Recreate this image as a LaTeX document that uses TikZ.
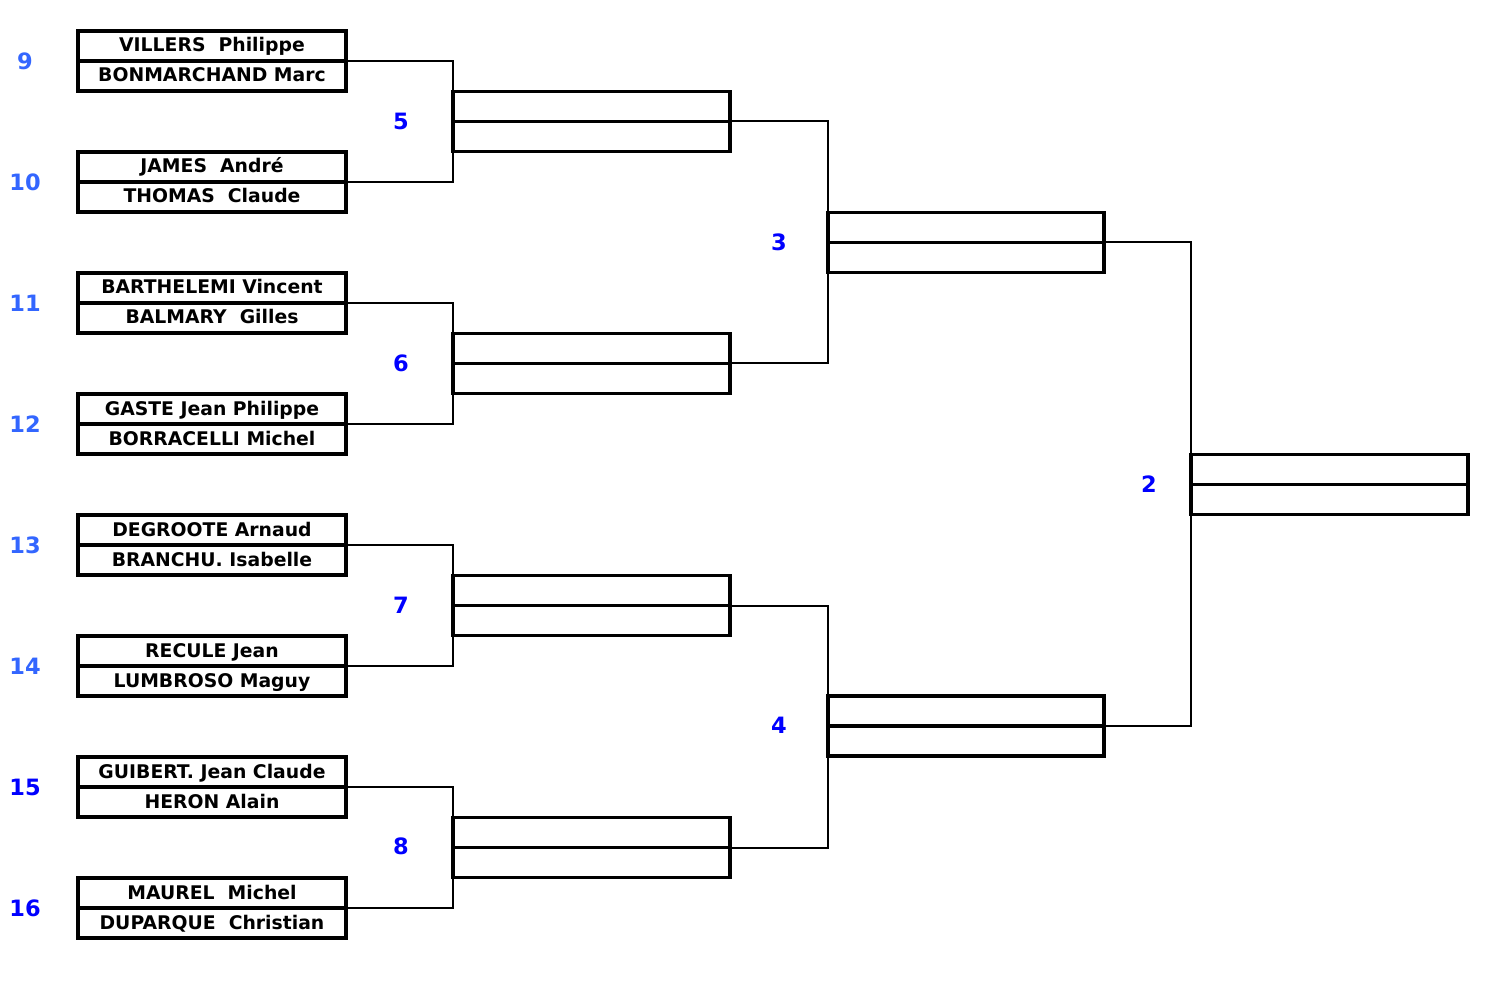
\documentclass[tikz,border=0pt]{standalone}
\usepackage{fontspec}
\setmainfont{DejaVu Sans}
\usepackage{tikz}
\usetikzlibrary{positioning}
\definecolor{seedblue}{RGB}{51, 102, 255}
\definecolor{roundblue}{RGB}{0, 0, 255}

\begin{document}
\begin{tikzpicture}[x=1pt, y=-1pt,
    player/.style={rectangle, draw, line width=3.5pt, outer sep=0pt, minimum width=268pt, minimum height=30pt, inner sep=0pt, text height=14pt, text depth=2pt, font=\fontsize{18.8}{20}\selectfont\bfseries},
    slot/.style={rectangle, draw, line width=3.5pt, outer sep=0pt, minimum width=277pt, minimum height=30pt, inner sep=0pt},
    seed/.style={font=\fontsize{22.5}{24}\selectfont\bfseries, text=seedblue},
    rnd/.style={font=\fontsize{22.5}{24}\selectfont\bfseries, text=roundblue},
    link/.style={line width=2pt}]
    \useasboundingbox (0,0) rectangle (1492,984);
    % first round
    \node[player] (p9a) at (212,46) {VILLERS~ Philippe};
    \node[player] (p9b) at (212,76) {BONMARCHAND Marc};
    \node[player] (p10a) at (212,167) {JAMES~ André};
    \node[player] (p10b) at (212,197) {THOMAS~ Claude};
    \node[player] (p11a) at (212,288) {BARTHELEMI Vincent};
    \node[player] (p11b) at (212,318) {BALMARY~ Gilles};
    \node[player] (p12a) at (212,409) {GASTE Jean Philippe};
    \node[player] (p12b) at (212,439) {BORRACELLI Michel};
    \node[player] (p13a) at (212,530) {DEGROOTE Arnaud};
    \node[player] (p13b) at (212,560) {BRANCHU. Isabelle};
    \node[player] (p14a) at (212,651) {RECULE Jean};
    \node[player] (p14b) at (212,681) {LUMBROSO Maguy};
    \node[player] (p15a) at (212,772) {GUIBERT. Jean Claude};
    \node[player] (p15b) at (212,802) {HERON Alain};
    \node[player] (p16a) at (212,893) {MAUREL~ Michel};
    \node[player] (p16b) at (212,923) {DUPARQUE~ Christian};
    \node[seed] (s9) at (25,61) {9};
    \node[seed] (s10) at (25,182) {10};
    \node[seed] (s11) at (25,303) {11};
    \node[seed] (s12) at (25,424) {12};
    \node[seed] (s13) at (25,545) {13};
    \node[seed] (s14) at (25,666) {14};
    \node[rnd] (s15) at (25,787) {15};
    \node[rnd] (s16) at (25,908) {16};
    % second round
    \node[slot] (w5a) at (591.5,106.5) {};
    \node[slot] (w5b) at (591.5,136.5) {};
    \node[slot] (w6a) at (591.5,348.5) {};
    \node[slot] (w6b) at (591.5,378.5) {};
    \node[slot] (w7a) at (591.5,590.5) {};
    \node[slot] (w7b) at (591.5,620.5) {};
    \node[slot] (w8a) at (591.5,832.5) {};
    \node[slot] (w8b) at (591.5,862.5) {};
    \node[rnd] (r5) at (401,121) {5};
    \node[rnd] (r6) at (401,363) {6};
    \node[rnd] (r7) at (401,605) {7};
    \node[rnd] (r8) at (401,846) {8};
    % semi-finals
    \node[slot, minimum width=276pt] (w3a) at (966,227.5) {};
    \node[slot, minimum width=276pt] (w3b) at (966,257.5) {};
    \node[slot, minimum width=276pt] (w4a) at (966,711) {};
    \node[slot, minimum width=276pt] (w4b) at (966,741) {};
    \node[rnd] (r3) at (779,242) {3};
    \node[rnd] (r4) at (779,725) {4};
    % final
    \node[slot] (w2a) at (1329.5,469.5) {};
    \node[slot] (w2b) at (1329.5,499.5) {};
    \node[rnd] (r2) at (1149,484) {2};
    % connectors
    \draw[link] (p9a.south east) -| (w5a.south west) |- (p10a.south east);
    \draw[link] (p11a.south east) -| (w6a.south west) |- (p12a.south east);
    \draw[link] (p13a.south east) -| (w7a.south west) |- (p14a.south east);
    \draw[link] (p15a.south east) -| (w8a.south west) |- (p16a.south east);
    \draw[link] (w5a.south east) -| (w3a.south west) |- (w6a.south east);
    \draw[link] (w7a.south east) -| (w4a.south west) |- (w8a.south east);
    \draw[link] (w3a.south east) -| (w2a.south west) |- (w4a.south east);
\end{tikzpicture}
\end{document}
